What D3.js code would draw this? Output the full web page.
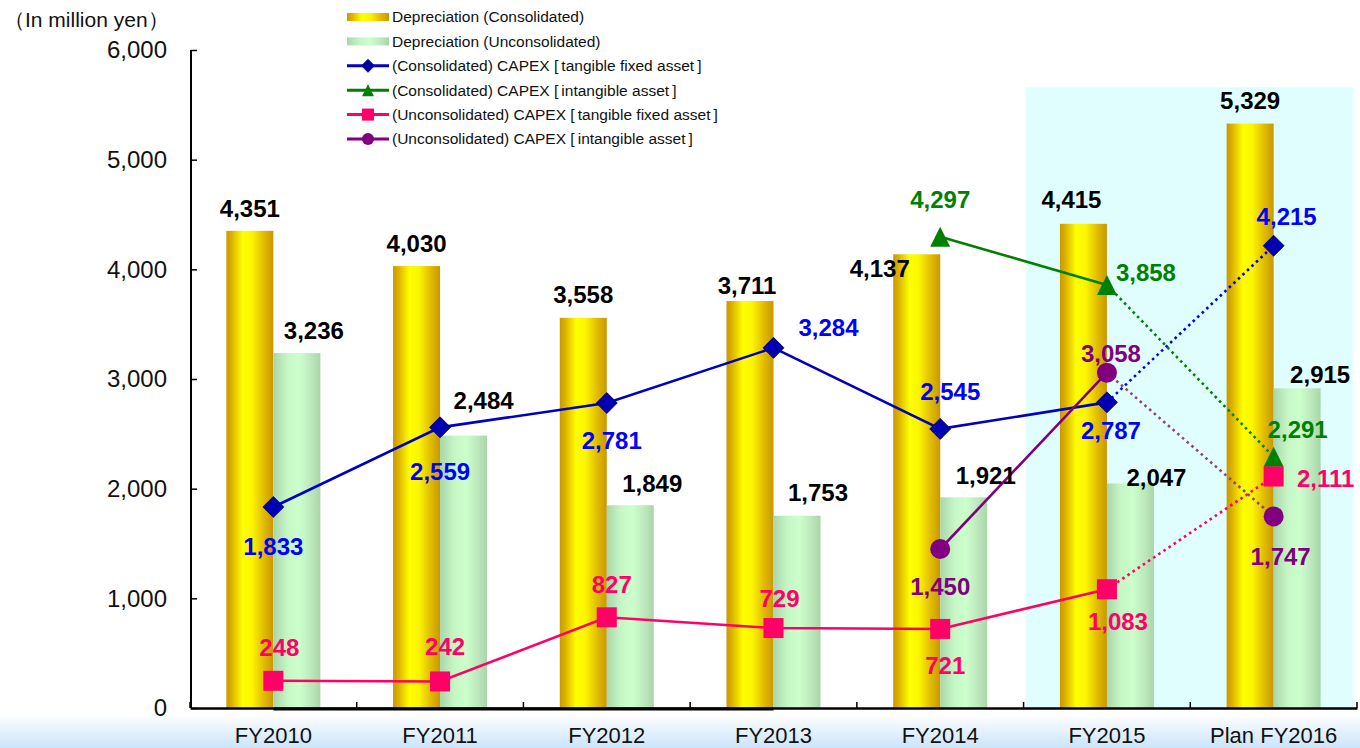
<!DOCTYPE html>
<html>
<head>
<meta charset="utf-8">
<script src="https://cdn.jsdelivr.net/npm/d3@7"></script>
<style>
  body { margin: 0; background: #fff; }
  text { font-family: Arial, "Liberation Sans", sans-serif; }
</style>
</head>
<body>
<svg id="chart" width="1360" height="748"></svg>
<script>
// Chart values
const categories = ['FY2010', 'FY2011', 'FY2012', 'FY2013', 'FY2014', 'FY2015', 'Plan FY2016'];
const depConsolidated = [4351, 4030, 3558, 3711, 4137, 4415, 5329];
const depUnconsolidated = [3236, 2484, 1849, 1753, 1921, 2047, 2915];
const capexConsTangible = [1833, 2559, 2781, 3284, 2545, 2787, 4215];
const capexConsIntangible = [null, null, null, null, 4297, 3858, 2291];
const capexUnconsTangible = [248, 242, 827, 729, 721, 1083, 2111];
const capexUnconsIntangible = [null, null, null, null, 1450, 3058, 1747];
const yTicks = [0, 1000, 2000, 3000, 4000, 5000, 6000];
const legendLabels = [
    'Depreciation (Consolidated)',
    'Depreciation (Unconsolidated)',
    '(Consolidated) CAPEX [\u2009tangible fixed asset\u2009]',
    '(Consolidated) CAPEX [\u2009intangible asset\u2009]',
    '(Unconsolidated) CAPEX [\u2009tangible fixed asset\u2009]',
    '(Unconsolidated) CAPEX [\u2009intangible asset\u2009]'
];

const svg = d3.select('#chart');
const fmt = d3.format(',');

// Scales
const x = d3.scaleBand().domain(categories).range([190, 1357]);
const y = d3.scaleLinear().domain([0, 6000]).range([708, 50]);
const cx = c => x(c) + x.bandwidth() / 2;
const barW = 47;

// Gradients
const defs = svg.append('defs');
function hGrad(id, stops) {
    const g = defs.append('linearGradient').attr('id', id)
        .attr('x1', '0%').attr('x2', '100%').attr('y1', '0%').attr('y2', '0%');
    stops.forEach(s => g.append('stop').attr('offset', s[0]).attr('stop-color', s[1]));
}
hGrad('gold', [[0, '#c99700'], [0.12, '#dcb400'], [0.35, '#ffff00'], [0.55, '#fbf500'], [0.8, '#e0bb00'], [1, '#c99700']]);
hGrad('mint', [[0, '#a9d6a9'], [0.3, '#c6f6c6'], [0.55, '#ccffcc'], [0.8, '#bde8bd'], [1, '#a9d6a9']]);
const bg = defs.append('linearGradient').attr('id', 'bottomBand')
    .attr('x1', 0).attr('x2', 0).attr('y1', 0).attr('y2', 1);
bg.append('stop').attr('offset', 0).attr('stop-color', '#ffffff');
bg.append('stop').attr('offset', 1).attr('stop-color', '#cbe4fa');

// Bottom band
svg.append('rect')
    .attr('x', 0).attr('y', 714).attr('width', 1360).attr('height', 34)
    .attr('fill', 'url(#bottomBand)');

// Highlight for FY2015 and plan
svg.append('rect')
    .attr('x', x('FY2015') + 2)
    .attr('y', y(5660))
    .attr('width', x.range()[1] - x('FY2015') - 6)
    .attr('height', y(0) - y(5660))
    .attr('fill', '#e0fefe');

// Bars
svg.append('g').selectAll('rect')
    .data(categories)
    .join('rect')
    .attr('x', c => cx(c) - barW)
    .attr('y', (c, i) => y(depConsolidated[i]))
    .attr('width', barW)
    .attr('height', (c, i) => y(0) - y(depConsolidated[i]))
    .attr('fill', 'url(#gold)');

svg.append('g').selectAll('rect')
    .data(categories)
    .join('rect')
    .attr('x', c => cx(c))
    .attr('y', (c, i) => y(depUnconsolidated[i]))
    .attr('width', barW)
    .attr('height', (c, i) => y(0) - y(depUnconsolidated[i]))
    .attr('fill', 'url(#mint)');

// Axes
const yAxis = svg.append('g')
    .attr('transform', 'translate(191,0)')
    .call(d3.axisLeft(y).tickValues(yTicks).tickFormat(fmt).tickSize(-6).tickPadding(24));
yAxis.select('.domain').attr('stroke', '#000').attr('stroke-width', 2).attr('d', `M0,${y(6000)}V${y(0)}`);
yAxis.selectAll('.tick line').attr('stroke', '#000').attr('stroke-width', 1.5);
yAxis.selectAll('.tick text').attr('font-size', 24).attr('fill', '#111');

const xAxis = svg.append('g')
    .attr('transform', `translate(0,${y(0)})`)
    .call(d3.axisBottom(x).tickSize(0).tickPadding(19));
xAxis.select('.domain').attr('stroke', '#000').attr('stroke-width', 2.5);
xAxis.selectAll('.tick text').attr('font-size', 22).attr('fill', '#111');

// boundary ticks pointing up
const bounds = categories.map(c => x(c)).concat([x.range()[1]]);
xAxis.selectAll('line.bound')
    .data(bounds)
    .join('line')
    .attr('class', 'bound')
    .attr('x1', d => d).attr('x2', d => d)
    .attr('y1', 0).attr('y2', -6)
    .attr('stroke', '#000').attr('stroke-width', 1.5);
// slightly heavier baseline segment seen in the reference
xAxis.append('line')
    .attr('x1', cx('FY2010')).attr('x2', cx('FY2013'))
    .attr('y1', 1).attr('y2', 1)
    .attr('stroke', '#000').attr('stroke-width', 3);

// Unit label
svg.append('text')
    .attr('x', 4).attr('y', 27)
    .attr('font-size', 21).attr('fill', '#111')
    .text('（In million yen）');

// Marker shapes
function marker(sel, type, size, fill) {
    const s = size / 2;
    if (type === 'diamond') {
        sel.append('path').attr('d', `M0,${-s}L${s},0L0,${s}L${-s},0Z`)
            .attr('fill', fill).attr('stroke', '#000060').attr('stroke-width', 0.8);
    } else if (type === 'triangle') {
        sel.append('path').attr('d', `M0,${-s}L${s},${s}L${-s},${s}Z`).attr('fill', fill);
    } else if (type === 'square') {
        sel.append('rect').attr('x', -s).attr('y', -s).attr('width', size).attr('height', size).attr('fill', fill);
    } else {
        sel.append('circle').attr('r', s).attr('fill', fill);
    }
}

// Line series
const series = [
    {values: capexConsTangible, line: '#0000c0', dot: '#0000ff', mark: '#0000b0', label: '#0000ff', type: 'diamond', size: 21,
     off: [[0, 39], [0, 44], [5, 37], [55, -20], [10, -38], [4, 28], [13, -29]]},
    {values: capexConsIntangible, line: '#008000', dot: '#008000', mark: '#008000', label: '#008000', type: 'triangle', size: 20,
     off: [null, null, null, null, [0, -37], [39, -13], [24, -27]]},
    {values: capexUnconsTangible, line: '#ff0066', dot: '#ff0066', mark: '#ff0066', label: '#ff0066', type: 'square', size: 20,
     off: [[6, -33], [5, -35], [5, -33], [6, -30], [5, 36], [11, 32], [52, 2]]},
    {values: capexUnconsIntangible, line: '#800080', dot: '#8a4a7a', mark: '#800080', label: '#800080', type: 'circle', size: 20,
     off: [null, null, null, null, [0, 37], [4, -19], [7, 40]]}
];

const line = d3.line()
    .defined(d => d.v != null)
    .x(d => cx(d.c))
    .y(d => y(d.v));

series.forEach(s => {
    const pts = categories.map((c, i) => ({c: c, v: s.values[i], i: i}));
    const g = svg.append('g');
    g.append('path')
        .datum(pts.slice(0, 6))
        .attr('d', line)
        .attr('fill', 'none')
        .attr('stroke', s.line)
        .attr('stroke-width', 2.6);
    g.append('path')
        .datum(pts.slice(5, 7))
        .attr('d', line)
        .attr('fill', 'none')
        .attr('stroke', s.dot)
        .attr('stroke-width', 2.6)
        .attr('stroke-dasharray', '2.6 3.6');
    pts.filter(d => d.v != null).forEach(d => {
        const m = g.append('g').attr('transform', `translate(${cx(d.c)},${y(d.v)})`);
        marker(m, s.type, s.size, s.mark);
    });
    s.pts = pts;
});

// Bar labels
const goldOff = [[0, -22], [0, -23], [0, -23], [-3, -16], [-37, 14], [-12, -24], [0, -23]];
const mintOff = [[17, -23], [20, -35], [22, -22], [21, -23], [22, -22], [26, -6], [23, -14]];
const labels = svg.append('g')
    .attr('font-weight', 'bold')
    .attr('font-size', 24)
    .attr('text-anchor', 'middle');

categories.forEach((c, i) => {
    labels.append('text')
        .attr('x', cx(c) - barW / 2 + goldOff[i][0])
        .attr('y', y(depConsolidated[i]) + goldOff[i][1])
        .attr('dy', '0.36em')
        .attr('fill', '#000')
        .text(fmt(depConsolidated[i]));
    labels.append('text')
        .attr('x', cx(c) + barW / 2 + mintOff[i][0])
        .attr('y', y(depUnconsolidated[i]) + mintOff[i][1])
        .attr('dy', '0.36em')
        .attr('fill', '#000')
        .text(fmt(depUnconsolidated[i]));
});

// Line labels
series.forEach(s => {
    s.pts.filter(d => d.v != null).forEach(d => {
        labels.append('text')
            .attr('x', cx(d.c) + s.off[d.i][0])
            .attr('y', y(d.v) + s.off[d.i][1])
            .attr('dy', '0.36em')
            .attr('fill', s.label)
            .text(fmt(d.v));
    });
});

// Legend
const legend = svg.append('g').attr('transform', 'translate(347,17)');
const rowH = 24.4;
legendLabels.forEach((t, i) => {
    const row = legend.append('g').attr('transform', `translate(0,${i * rowH})`);
    if (i === 0 || i === 1) {
        row.append('rect').attr('x', 0).attr('y', -4).attr('width', 42).attr('height', 8)
            .attr('fill', i === 0 ? 'url(#gold)' : 'url(#mint)');
    } else {
        const s = series[i - 2];
        row.append('line').attr('x1', 0).attr('x2', 42).attr('y1', 0).attr('y2', 0)
            .attr('stroke', s.line).attr('stroke-width', 3);
        const m = row.append('g').attr('transform', 'translate(21,0)');
        marker(m, s.type, s.type === 'diamond' ? 13 : 12, s.mark);
    }
    row.append('text')
        .attr('x', 45).attr('y', 0).attr('dy', '0.35em')
        .attr('font-size', 15.5).attr('fill', '#111')
        .text(t);
});
</script>
</body>
</html>
